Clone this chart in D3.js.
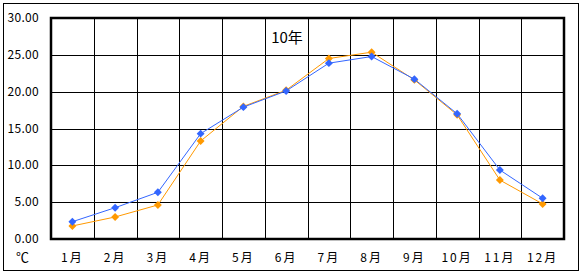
<!DOCTYPE html>
<html>
<head>
  <meta charset='utf-8'>
  <title>10年</title>
  <style>
    body { margin: 0; background: #fff; }
    text { font-family: 'Noto Sans CJK JP', 'DejaVu Sans', sans-serif; font-size: 12px; fill: #000; }
  </style>
</head>
<body>
<div id="chart"></div>
<script src="https://cdnjs.cloudflare.com/ajax/libs/d3/7.8.5/d3.min.js"></script>
<script>

var width = 584, height = 276;

var months = ['1月', '2月', '3月', '4月', '5月', '6月', '7月', '8月', '9月', '10月', '11月', '12月'];
var blueVals = [2.35, 4.25, 6.34, 14.3, 17.9, 20.1, 23.87, 24.77, 21.7, 17.0, 9.37, 5.53];
var orangeVals = [1.77, 2.99, 4.62, 13.3, 18.0, 20.2, 24.5, 25.36, 21.6, 16.85, 8.0, 4.76];
var yTicks = [0, 5, 10, 15, 20, 25, 30];

var svg = d3.select('#chart')
  .append('svg')
  .attr('width', width)
  .attr('height', height);

// outer frame
svg.append('rect')
  .attr('x', 3.5).attr('y', 3.5)
  .attr('width', 575).attr('height', 267)
  .attr('fill', 'none')
  .attr('stroke', '#000');

var x = d3.scaleBand().domain(months).range([51, 564]);
var y = d3.scaleLinear().domain([0, 30]).range([239, 18]);

// horizontal grid
svg.append('g').selectAll('line')
  .data(yTicks)
  .enter().append('line')
    .attr('x1', 51).attr('x2', 564)
    .attr('y1', function(d) { return Math.round(y(d)) + 0.5; })
    .attr('y2', function(d) { return Math.round(y(d)) + 0.5; })
    .attr('stroke', '#000');

// vertical grid
svg.append('g').selectAll('line')
  .data(months.slice(1))
  .enter().append('line')
    .attr('x1', function(d) { return Math.round(x(d)) + 0.5; })
    .attr('x2', function(d) { return Math.round(x(d)) + 0.5; })
    .attr('y1', 18).attr('y2', 239)
    .attr('stroke', '#000');

// plot border (thick)
svg.append('rect')
  .attr('x', 51).attr('y', 18)
  .attr('width', 513).attr('height', 221)
  .attr('fill', 'none')
  .attr('stroke', '#000')
  .attr('stroke-width', 2.5);

// y labels
svg.append('g').selectAll('text')
  .data(yTicks)
  .enter().append('text')
    .attr('x', 39)
    .attr('y', function(d) { return y(d) + 4; })
    .attr('text-anchor', 'end')
    .style('letter-spacing', '0.3px')
    .text(function(d) { return d.toFixed(2); });

svg.append('text')
  .attr('x', 16).attr('y', 262)
  .style('font-size', '13px')
  .text('℃');

// x labels
svg.append('g').selectAll('text')
  .data(months)
  .enter().append('text')
    .attr('x', function(d) { return x(d) + x.bandwidth() / 2; })
    .attr('y', 262)
    .attr('text-anchor', 'middle')
    .style('letter-spacing', '2px')
    .text(function(d) { return d; });

// title
svg.append('text')
  .attr('x', 287).attr('y', 43)
  .attr('text-anchor', 'middle')
  .style('font-size', '15px')
  .text('10年');

var line = d3.line()
  .x(function(d, i) { return x(months[i]) + x.bandwidth() / 2; })
  .y(function(d) { return y(d); });

var diamond = d3.symbol().type(d3.symbolDiamond2).size(40);

function drawSeries(vals, color) {
  svg.append('path')
    .datum(vals)
    .attr('d', line)
    .attr('fill', 'none')
    .attr('stroke', color)
    .attr('stroke-width', 1);
  svg.append('g').selectAll('path')
    .data(vals)
    .enter().append('path')
      .attr('d', diamond)
      .attr('transform', function(d, i) {
        return 'translate(' + (x(months[i]) + x.bandwidth() / 2) + ',' + y(d) + ')';
      })
      .attr('fill', color);
}

drawSeries(orangeVals, '#ff9900');
drawSeries(blueVals, '#3366ff');

</script>
</body>
</html>
